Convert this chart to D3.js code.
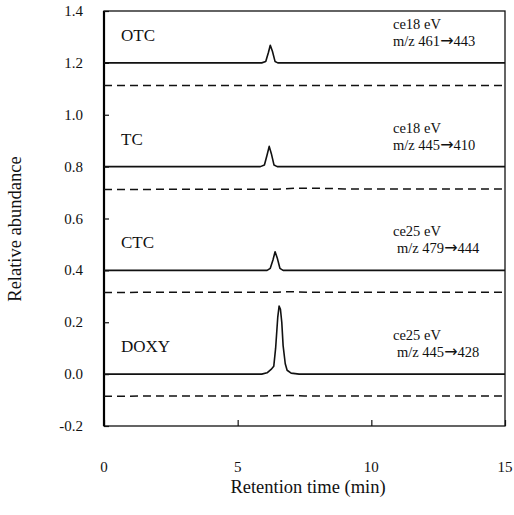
<!DOCTYPE html>
<html>
<head>
<meta charset="utf-8">
<script src="https://cdn.jsdelivr.net/npm/d3@7"></script>
<style>
  body { margin: 0; background: #fff; }
  text { font-family: "Liberation Serif", "DejaVu Serif", serif; fill: #111; }
</style>
</head>
<body>
<svg width="514" height="515"></svg>
<script>
// chromatograms (time in min, relative abundance)
const compounds = ["OTC", "TC", "CTC", "DOXY"];
const energies = ["ce18 eV", "ce18 eV", "ce25 eV", "ce25 eV"];
const precursors = ["461", "445", "479", "445"];
const products = ["443", "410", "444", "428"];
const baselines = [1.2, 0.8, 0.4, 0.0];

const otcTrace = [[0, 1.2], [5.9, 1.2], [6.05, 1.205], [6.15, 1.24], [6.22, 1.268], [6.3, 1.245], [6.4, 1.205], [6.5, 1.2], [15, 1.2]];
const tcTrace = [[0, 0.8], [5.85, 0.8], [6.0, 0.806], [6.1, 0.845], [6.18, 0.878], [6.26, 0.85], [6.36, 0.806], [6.48, 0.8], [15, 0.8]];
const ctcTrace = [[0, 0.4], [6.1, 0.4], [6.22, 0.408], [6.32, 0.44], [6.4, 0.472], [6.48, 0.448], [6.58, 0.408], [6.7, 0.4], [15, 0.4]];
const doxyTrace = [[0, 0], [5.9, 0], [6.1, 0.005], [6.25, 0.018], [6.35, 0.03], [6.42, 0.1], [6.5, 0.22], [6.55, 0.262], [6.6, 0.25], [6.65, 0.2], [6.7, 0.11], [6.78, 0.04], [6.85, 0.015], [7.0, 0.004], [7.3, 0], [15, 0]];

// blank traces (dashed)
const otcBlank = [[0, 1.113], [15, 1.113]];
const tcBlank = [[0, 0.712], [6.5, 0.713], [7.2, 0.717], [8.3, 0.716], [9.0, 0.714], [15, 0.714]];
const ctcBlank = [[0, 0.315], [6.5, 0.316], [7.0, 0.318], [7.6, 0.316], [15, 0.316]];
const doxyBlank = [[0, -0.085], [6.0, -0.084], [6.8, -0.082], [7.5, -0.084], [15, -0.084]];

const xTicks = [0, 5, 10, 15];
const yTicks = [-0.2, 0.0, 0.2, 0.4, 0.6, 0.8, 1.0, 1.2, 1.4];

const traces = [otcTrace, tcTrace, ctcTrace, doxyTrace];
const blanks = [otcBlank, tcBlank, ctcBlank, doxyBlank];

const svg = d3.select("svg");
const plotL = 104, plotR = 505, plotT = 11, plotB = 426;

const x = d3.scaleLinear().domain([0, 15]).range([plotL, plotR]);
const y = d3.scaleLinear().domain([-0.2, 1.4]).range([plotB, plotT]);

const line = d3.line()
    .x(d => x(d[0]))
    .y(d => y(d[1]));

// frame
svg.append("rect")
    .attr("x", plotL).attr("y", plotT)
    .attr("width", plotR - plotL).attr("height", plotB - plotT)
    .attr("fill", "none").attr("stroke", "#111").attr("stroke-width", 1.3);

// axes with inward ticks
const xAxis = svg.append("g")
    .attr("transform", `translate(0,${plotB})`)
    .call(d3.axisTop(x).tickValues(xTicks).tickSize(6).tickFormat(""));
xAxis.select(".domain").remove();

const yAxis = svg.append("g")
    .attr("transform", `translate(${plotL},0)`)
    .call(d3.axisRight(y).tickValues(yTicks).tickSize(5).tickFormat(""));
yAxis.select(".domain").attr("stroke-width", 2.2).attr("d", `M0,${plotT}V${plotB}`);
svg.selectAll(".tick line").attr("stroke", "#111").attr("stroke-width", 1.2);

// tick labels
svg.append("g").selectAll("text")
    .data(xTicks).join("text")
    .attr("x", d => x(d)).attr("y", 472)
    .attr("text-anchor", "middle")
    .attr("font-size", 15)
    .text(d => d);

svg.append("g").selectAll("text")
    .data(yTicks).join("text")
    .attr("x", 83).attr("y", d => y(d) + 5)
    .attr("text-anchor", "end")
    .attr("font-size", 15)
    .text(d => d.toFixed(1));

// traces
svg.append("g").selectAll("path.trace")
    .data(traces).join("path")
    .attr("class", "trace")
    .attr("d", line)
    .attr("fill", "none").attr("stroke", "#111").attr("stroke-width", 1.6)
    .attr("stroke-linejoin", "round");

svg.append("g").selectAll("path.blank")
    .data(blanks).join("path")
    .attr("class", "blank")
    .attr("d", line)
    .attr("fill", "none").attr("stroke", "#111").attr("stroke-width", 1.5)
    .attr("stroke-dasharray", "8,5");

// labels
const lab = svg.append("g");
compounds.forEach((c, i) => {
    const by = y(baselines[i]);
    lab.append("text")
        .attr("x", 121).attr("y", by - 22)
        .attr("font-size", 17)
        .text(c);
    lab.append("text")
        .attr("x", 393).attr("y", by - 34)
        .attr("font-size", 14.5)
        .text(energies[i]);
    const t = lab.append("text")
        .attr("x", i < 2 ? 393 : 397).attr("y", by - 17)
        .attr("font-size", 14.5);
    t.append("tspan").text(`m/z ${precursors[i]}`);
    t.append("tspan")
        .style("font-family", "'DejaVu Sans'")
        .attr("font-size", 16)
        .text("\u2192");
    t.append("tspan").text(products[i]);
});

// axis titles
svg.append("text")
    .attr("x", 308).attr("y", 493)
    .attr("text-anchor", "middle")
    .attr("font-size", 18.5)
    .text("Retention time (min)");

svg.append("text")
    .attr("transform", "translate(21,229) rotate(-90)")
    .attr("text-anchor", "middle")
    .attr("font-size", 18.5)
    .text("Relative abundance");
</script>
</body>
</html>
